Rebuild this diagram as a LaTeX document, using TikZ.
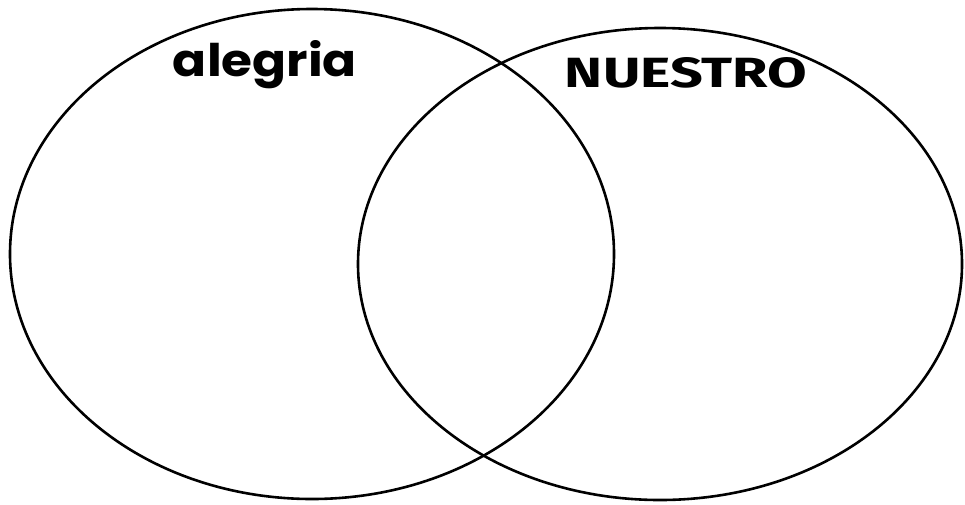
\documentclass[tikz,border=0pt]{standalone}
\usepackage{fontspec}
\setmainfont{Fira Sans}
\newfontfamily\heavyfont{Poppins}
\begin{document}
\begin{tikzpicture}[x=1pt,y=-1pt,
  setring/.style={draw=black,line width=2.6pt},
  title/.style={inner sep=0pt,text=black}]
\useasboundingbox[fill=white] (0,0) rectangle (965,504);
\draw[setring] (312,254) ellipse [x radius=302, y radius=245];
\draw[setring] (660,264) ellipse [x radius=302, y radius=236];
\node[title] (alegria) at (265,65) {\resizebox{184pt}{36pt}{\heavyfont\bfseries alegria}};
\node[title] (nuestro) at (686,73) {\resizebox{242pt}{30pt}{\bfseries NUESTRO}};
\end{tikzpicture}
\end{document}
